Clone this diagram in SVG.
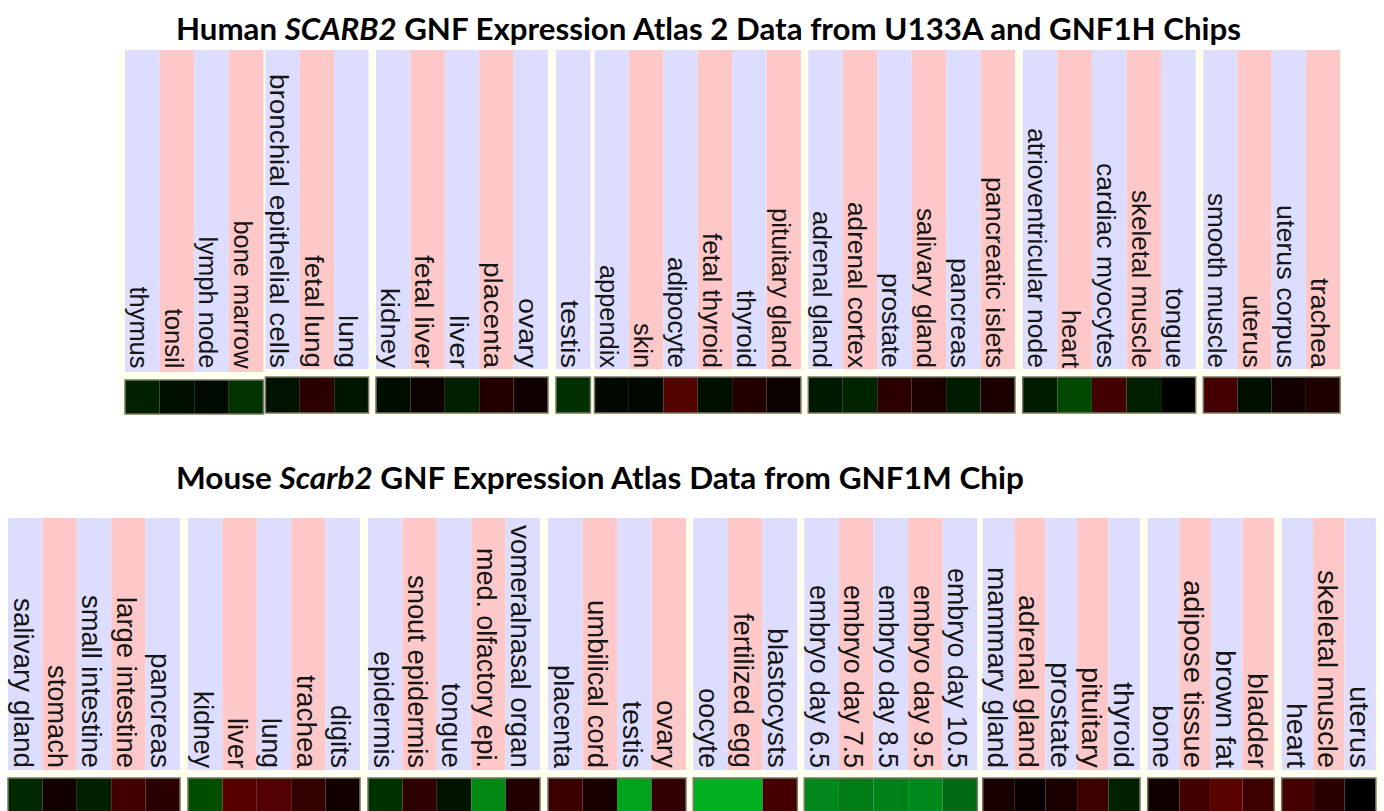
<svg xmlns="http://www.w3.org/2000/svg" width="1384" height="811" viewBox="0 0 1384 811">
<style>
.bg{fill:#FFFFEE}
.L{fill:#DDDDFF}
.P{fill:#FFC8C8}
.t{font-family:"Liberation Sans",Arial,sans-serif;font-size:26px;fill:#151515;text-anchor:end}
.m{font-family:"Liberation Sans",Arial,sans-serif;font-size:27.5px;fill:#151515;text-anchor:end}
.bar{fill:none;stroke:#77776a;stroke-width:1.5}
.title{font-family:Lato,"Liberation Sans",sans-serif;font-weight:700;font-size:31px;fill:#000}
</style>
<rect width="1384" height="811" fill="#FFFFFF"/>
<g id="titles">
<text class="title" x="176" y="40" textLength="1065" lengthAdjust="spacingAndGlyphs">Human <tspan font-style="italic">SCARB2</tspan> GNF Expression Atlas 2 Data from U133A and GNF1H Chips</text>
<text class="title" x="176" y="489" textLength="848" lengthAdjust="spacingAndGlyphs">Mouse <tspan font-style="italic">Scarb2</tspan> GNF Expression Atlas Data from GNF1M Chip</text>
</g>
<g id="human">
<rect class="bg" x="119" y="50" width="1224" height="366"/>
<g id="h-g1">
<rect class="L" x="125" y="50" width="34.6" height="322"/><rect class="P" x="159.6" y="50" width="34.6" height="322"/><rect class="L" x="194.2" y="50" width="34.6" height="322"/><rect class="P" x="228.8" y="50" width="34.6" height="322"/>
<text class="t" transform="translate(130,368.5) rotate(90)" textLength="82" lengthAdjust="spacingAndGlyphs">thymus</text>
<text class="t" transform="translate(164.6,368.5) rotate(90)" textLength="60" lengthAdjust="spacingAndGlyphs">tonsil</text>
<text class="t" transform="translate(199.2,368.5) rotate(90)" textLength="132" lengthAdjust="spacingAndGlyphs">lymph node</text>
<text class="t" transform="translate(233.8,368.5) rotate(90)" textLength="148" lengthAdjust="spacingAndGlyphs">bone marrow</text>
<rect x="125" y="380" width="34.6" height="34" fill="#002200"/><rect x="159.6" y="380" width="34.6" height="34" fill="#001000"/><rect x="194.2" y="380" width="34.6" height="34" fill="#000a00"/><rect x="228.8" y="380" width="34.6" height="34" fill="#003300"/>
<rect class="bar" x="125" y="380" width="138.4" height="34"/>
</g>
<g id="h-g2">
<rect class="L" x="265.4" y="50" width="34.4" height="319"/><rect class="P" x="299.8" y="50" width="34.4" height="319"/><rect class="L" x="334.2" y="50" width="34.4" height="319"/>
<text class="t" transform="translate(270.4,368) rotate(90)" textLength="294" lengthAdjust="spacingAndGlyphs">bronchial epithelial cells</text>
<text class="t" transform="translate(304.8,368) rotate(90)" textLength="113" lengthAdjust="spacingAndGlyphs">fetal lung</text>
<text class="t" transform="translate(339.2,368) rotate(90)" textLength="53" lengthAdjust="spacingAndGlyphs">lung</text>
<rect x="265.4" y="377" width="34.4" height="36" fill="#001200"/><rect x="299.8" y="377" width="34.4" height="36" fill="#2a0000"/><rect x="334.2" y="377" width="34.4" height="36" fill="#001600"/>
<rect class="bar" x="265.4" y="377" width="103.2" height="36"/>
</g>
<g id="h-g3">
<rect class="L" x="376" y="50" width="34.4" height="319"/><rect class="P" x="410.4" y="50" width="34.4" height="319"/><rect class="L" x="444.8" y="50" width="34.4" height="319"/><rect class="P" x="479.2" y="50" width="34.4" height="319"/><rect class="L" x="513.6" y="50" width="34.4" height="319"/>
<text class="t" transform="translate(381,368) rotate(90)" textLength="80" lengthAdjust="spacingAndGlyphs">kidney</text>
<text class="t" transform="translate(415.4,368) rotate(90)" textLength="113" lengthAdjust="spacingAndGlyphs">fetal liver</text>
<text class="t" transform="translate(449.8,368) rotate(90)" textLength="53" lengthAdjust="spacingAndGlyphs">liver</text>
<text class="t" transform="translate(484.2,368) rotate(90)" textLength="106" lengthAdjust="spacingAndGlyphs">placenta</text>
<text class="t" transform="translate(518.6,368) rotate(90)" textLength="70" lengthAdjust="spacingAndGlyphs">ovary</text>
<rect x="376" y="377" width="34.4" height="36" fill="#000e00"/><rect x="410.4" y="377" width="34.4" height="36" fill="#0c0000"/><rect x="444.8" y="377" width="34.4" height="36" fill="#002000"/><rect x="479.2" y="377" width="34.4" height="36" fill="#220000"/><rect x="513.6" y="377" width="34.4" height="36" fill="#0e0000"/>
<rect class="bar" x="376" y="377" width="172" height="36"/>
</g>
<g id="h-g4">
<rect class="L" x="556" y="50" width="34.4" height="319"/>
<text class="t" transform="translate(561,368) rotate(90)" textLength="68" lengthAdjust="spacingAndGlyphs">testis</text>
<rect x="556" y="377" width="34.4" height="36" fill="#003000"/>
<rect class="bar" x="556" y="377" width="34.4" height="36"/>
</g>
<g id="h-g5">
<rect class="L" x="594.5" y="50" width="34.4" height="319"/><rect class="P" x="628.9" y="50" width="34.4" height="319"/><rect class="L" x="663.3" y="50" width="34.4" height="319"/><rect class="P" x="697.7" y="50" width="34.4" height="319"/><rect class="L" x="732.1" y="50" width="34.4" height="319"/><rect class="P" x="766.5" y="50" width="34.4" height="319"/>
<text class="t" transform="translate(599.5,368) rotate(90)" textLength="103" lengthAdjust="spacingAndGlyphs">appendix</text>
<text class="t" transform="translate(633.9,368) rotate(90)" textLength="45" lengthAdjust="spacingAndGlyphs">skin</text>
<text class="t" transform="translate(668.3,368) rotate(90)" textLength="111" lengthAdjust="spacingAndGlyphs">adipocyte</text>
<text class="t" transform="translate(702.7,368) rotate(90)" textLength="135" lengthAdjust="spacingAndGlyphs">fetal thyroid</text>
<text class="t" transform="translate(737.1,368) rotate(90)" textLength="78" lengthAdjust="spacingAndGlyphs">thyroid</text>
<text class="t" transform="translate(771.5,368) rotate(90)" textLength="160" lengthAdjust="spacingAndGlyphs">pituitary gland</text>
<rect x="594.5" y="377" width="34.4" height="36" fill="#000800"/><rect x="628.9" y="377" width="34.4" height="36" fill="#000800"/><rect x="663.3" y="377" width="34.4" height="36" fill="#520400"/><rect x="697.7" y="377" width="34.4" height="36" fill="#001000"/><rect x="732.1" y="377" width="34.4" height="36" fill="#220000"/><rect x="766.5" y="377" width="34.4" height="36" fill="#0c0000"/>
<rect class="bar" x="594.5" y="377" width="206.4" height="36"/>
</g>
<g id="h-g6">
<rect class="L" x="808.3" y="50" width="34.45" height="319"/><rect class="P" x="842.75" y="50" width="34.45" height="319"/><rect class="L" x="877.2" y="50" width="34.45" height="319"/><rect class="P" x="911.65" y="50" width="34.45" height="319"/><rect class="L" x="946.1" y="50" width="34.45" height="319"/><rect class="P" x="980.55" y="50" width="34.45" height="319"/>
<text class="t" transform="translate(813.3,368) rotate(90)" textLength="157" lengthAdjust="spacingAndGlyphs">adrenal gland</text>
<text class="t" transform="translate(847.75,368) rotate(90)" textLength="166" lengthAdjust="spacingAndGlyphs">adrenal cortex</text>
<text class="t" transform="translate(882.2,368) rotate(90)" textLength="95" lengthAdjust="spacingAndGlyphs">prostate</text>
<text class="t" transform="translate(916.65,368) rotate(90)" textLength="160" lengthAdjust="spacingAndGlyphs">salivary gland</text>
<text class="t" transform="translate(951.1,368) rotate(90)" textLength="110" lengthAdjust="spacingAndGlyphs">pancreas</text>
<text class="t" transform="translate(985.55,368) rotate(90)" textLength="191" lengthAdjust="spacingAndGlyphs">pancreatic islets</text>
<rect x="808.3" y="377" width="34.45" height="36" fill="#001a00"/><rect x="842.75" y="377" width="34.45" height="36" fill="#002400"/><rect x="877.2" y="377" width="34.45" height="36" fill="#2a0000"/><rect x="911.65" y="377" width="34.45" height="36" fill="#1c0000"/><rect x="946.1" y="377" width="34.45" height="36" fill="#001c00"/><rect x="980.55" y="377" width="34.45" height="36" fill="#1a0000"/>
<rect class="bar" x="808.3" y="377" width="206.7" height="36"/>
</g>
<g id="h-g7">
<rect class="L" x="1022.7" y="50" width="34.6" height="319"/><rect class="P" x="1057.3" y="50" width="34.6" height="319"/><rect class="L" x="1091.9" y="50" width="34.6" height="319"/><rect class="P" x="1126.5" y="50" width="34.6" height="319"/><rect class="L" x="1161.1" y="50" width="34.6" height="319"/>
<text class="t" transform="translate(1027.7,368) rotate(90)" textLength="240" lengthAdjust="spacingAndGlyphs">atrioventricular node</text>
<text class="t" transform="translate(1062.3,368) rotate(90)" textLength="58" lengthAdjust="spacingAndGlyphs">heart</text>
<text class="t" transform="translate(1096.9,368) rotate(90)" textLength="205" lengthAdjust="spacingAndGlyphs">cardiac myocytes</text>
<text class="t" transform="translate(1131.5,368) rotate(90)" textLength="178" lengthAdjust="spacingAndGlyphs">skeletal muscle</text>
<text class="t" transform="translate(1166.1,368) rotate(90)" textLength="80" lengthAdjust="spacingAndGlyphs">tongue</text>
<rect x="1022.7" y="377" width="34.6" height="36" fill="#001c00"/><rect x="1057.3" y="377" width="34.6" height="36" fill="#004800"/><rect x="1091.9" y="377" width="34.6" height="36" fill="#420000"/><rect x="1126.5" y="377" width="34.6" height="36" fill="#001e00"/><rect x="1161.1" y="377" width="34.6" height="36" fill="#000000"/>
<rect class="bar" x="1022.7" y="377" width="173" height="36"/>
</g>
<g id="h-g8">
<rect class="L" x="1203.3" y="50" width="34.2" height="319"/><rect class="P" x="1237.5" y="50" width="34.2" height="319"/><rect class="L" x="1271.7" y="50" width="34.2" height="319"/><rect class="P" x="1305.9" y="50" width="34.2" height="319"/>
<text class="t" transform="translate(1208.3,368) rotate(90)" textLength="175" lengthAdjust="spacingAndGlyphs">smooth muscle</text>
<text class="t" transform="translate(1242.5,368) rotate(90)" textLength="73" lengthAdjust="spacingAndGlyphs">uterus</text>
<text class="t" transform="translate(1276.7,368) rotate(90)" textLength="163" lengthAdjust="spacingAndGlyphs">uterus corpus</text>
<text class="t" transform="translate(1310.9,368) rotate(90)" textLength="90" lengthAdjust="spacingAndGlyphs">trachea</text>
<rect x="1203.3" y="377" width="34.2" height="36" fill="#440000"/><rect x="1237.5" y="377" width="34.2" height="36" fill="#001000"/><rect x="1271.7" y="377" width="34.2" height="36" fill="#120000"/><rect x="1305.9" y="377" width="34.2" height="36" fill="#1e0000"/>
<rect class="bar" x="1203.3" y="377" width="136.8" height="36"/>
</g>
</g>
<g id="mouse">
<rect class="bg" x="8" y="518" width="1372" height="293"/>
<g id="m-g1">
<rect class="L" x="8" y="518" width="34.4" height="252"/><rect class="P" x="42.4" y="518" width="34.4" height="252"/><rect class="L" x="76.8" y="518" width="34.4" height="252"/><rect class="P" x="111.2" y="518" width="34.4" height="252"/><rect class="L" x="145.6" y="518" width="34.4" height="252"/>
<text class="m" transform="translate(13.5,768) rotate(90)" textLength="170" lengthAdjust="spacingAndGlyphs">salivary gland</text>
<text class="m" transform="translate(47.9,768) rotate(90)" textLength="103" lengthAdjust="spacingAndGlyphs">stomach</text>
<text class="m" transform="translate(82.3,768) rotate(90)" textLength="173" lengthAdjust="spacingAndGlyphs">small intestine</text>
<text class="m" transform="translate(116.7,768) rotate(90)" textLength="171" lengthAdjust="spacingAndGlyphs">large intestine</text>
<text class="m" transform="translate(151.1,768) rotate(90)" textLength="115" lengthAdjust="spacingAndGlyphs">pancreas</text>
<rect x="8" y="778" width="34.4" height="40" fill="#002800"/><rect x="42.4" y="778" width="34.4" height="40" fill="#120000"/><rect x="76.8" y="778" width="34.4" height="40" fill="#002000"/><rect x="111.2" y="778" width="34.4" height="40" fill="#420000"/><rect x="145.6" y="778" width="34.4" height="40" fill="#2a0000"/>
<rect class="bar" x="8" y="778" width="172" height="40"/>
</g>
<g id="m-g2">
<rect class="L" x="188" y="518" width="34.4" height="252"/><rect class="P" x="222.4" y="518" width="34.4" height="252"/><rect class="L" x="256.8" y="518" width="34.4" height="252"/><rect class="P" x="291.2" y="518" width="34.4" height="252"/><rect class="L" x="325.6" y="518" width="34.4" height="252"/>
<text class="m" transform="translate(193.5,768) rotate(90)" textLength="77" lengthAdjust="spacingAndGlyphs">kidney</text>
<text class="m" transform="translate(227.9,768) rotate(90)" textLength="50" lengthAdjust="spacingAndGlyphs">liver</text>
<text class="m" transform="translate(262.3,768) rotate(90)" textLength="50" lengthAdjust="spacingAndGlyphs">lung</text>
<text class="m" transform="translate(296.7,768) rotate(90)" textLength="93" lengthAdjust="spacingAndGlyphs">trachea</text>
<text class="m" transform="translate(331.1,768) rotate(90)" textLength="63" lengthAdjust="spacingAndGlyphs">digits</text>
<rect x="188" y="778" width="34.4" height="40" fill="#004e00"/><rect x="222.4" y="778" width="34.4" height="40" fill="#560000"/><rect x="256.8" y="778" width="34.4" height="40" fill="#520000"/><rect x="291.2" y="778" width="34.4" height="40" fill="#340000"/><rect x="325.6" y="778" width="34.4" height="40" fill="#120000"/>
<rect class="bar" x="188" y="778" width="172" height="40"/>
</g>
<g id="m-g3">
<rect class="L" x="368" y="518" width="34.4" height="252"/><rect class="P" x="402.4" y="518" width="34.4" height="252"/><rect class="L" x="436.8" y="518" width="34.4" height="252"/><rect class="P" x="471.2" y="518" width="34.4" height="252"/><rect class="L" x="505.6" y="518" width="34.4" height="252"/>
<text class="m" transform="translate(373.5,768) rotate(90)" textLength="117" lengthAdjust="spacingAndGlyphs">epidermis</text>
<text class="m" transform="translate(407.9,768) rotate(90)" textLength="193" lengthAdjust="spacingAndGlyphs">snout epidermis</text>
<text class="m" transform="translate(442.3,768) rotate(90)" textLength="85" lengthAdjust="spacingAndGlyphs">tongue</text>
<text class="m" transform="translate(476.7,768) rotate(90)" textLength="220" lengthAdjust="spacingAndGlyphs">med. olfactory epi.</text>
<text class="m" transform="translate(511.1,768) rotate(90)" textLength="243" lengthAdjust="spacingAndGlyphs">vomeralnasal organ</text>
<rect x="368" y="778" width="34.4" height="40" fill="#003200"/><rect x="402.4" y="778" width="34.4" height="40" fill="#2c0000"/><rect x="436.8" y="778" width="34.4" height="40" fill="#001400"/><rect x="471.2" y="778" width="34.4" height="40" fill="#008a14"/><rect x="505.6" y="778" width="34.4" height="40" fill="#220000"/>
<rect class="bar" x="368" y="778" width="172" height="40"/>
</g>
<g id="m-g4">
<rect class="L" x="548" y="518" width="34.5" height="252"/><rect class="P" x="582.5" y="518" width="34.5" height="252"/><rect class="L" x="617" y="518" width="34.5" height="252"/><rect class="P" x="651.5" y="518" width="34.5" height="252"/>
<text class="m" transform="translate(553.5,768) rotate(90)" textLength="103" lengthAdjust="spacingAndGlyphs">placenta</text>
<text class="m" transform="translate(588,768) rotate(90)" textLength="168" lengthAdjust="spacingAndGlyphs">umbilical cord</text>
<text class="m" transform="translate(622.5,768) rotate(90)" textLength="67" lengthAdjust="spacingAndGlyphs">testis</text>
<text class="m" transform="translate(657,768) rotate(90)" textLength="68" lengthAdjust="spacingAndGlyphs">ovary</text>
<rect x="548" y="778" width="34.5" height="40" fill="#3a0000"/><rect x="582.5" y="778" width="34.5" height="40" fill="#180000"/><rect x="617" y="778" width="34.5" height="40" fill="#00a41c"/><rect x="651.5" y="778" width="34.5" height="40" fill="#320000"/>
<rect class="bar" x="548" y="778" width="138" height="40"/>
</g>
<g id="m-g5">
<rect class="L" x="693.3" y="518" width="34.7" height="252"/><rect class="P" x="728" y="518" width="34.6" height="252"/><rect class="L" x="762.6" y="518" width="34.7" height="252"/>
<text class="m" transform="translate(698.8,768) rotate(90)" textLength="80" lengthAdjust="spacingAndGlyphs">oocyte</text>
<text class="m" transform="translate(733.5,768) rotate(90)" textLength="155" lengthAdjust="spacingAndGlyphs">fertilized egg</text>
<text class="m" transform="translate(768.1,768) rotate(90)" textLength="140" lengthAdjust="spacingAndGlyphs">blastocysts</text>
<rect x="693.3" y="778" width="34.7" height="40" fill="#00b01e"/><rect x="728" y="778" width="34.6" height="40" fill="#00b01e"/><rect x="762.6" y="778" width="34.7" height="40" fill="#440000"/>
<rect class="bar" x="693.3" y="778" width="104" height="40"/>
</g>
<g id="m-g6">
<rect class="L" x="804.3" y="518" width="34.6" height="252"/><rect class="P" x="838.9" y="518" width="34.6" height="252"/><rect class="L" x="873.5" y="518" width="34.6" height="252"/><rect class="P" x="908.1" y="518" width="34.6" height="252"/><rect class="L" x="942.7" y="518" width="34.6" height="252"/>
<text class="m" transform="translate(809.8,768) rotate(90)" textLength="183" lengthAdjust="spacingAndGlyphs">embryo day 6.5</text>
<text class="m" transform="translate(844.4,768) rotate(90)" textLength="183" lengthAdjust="spacingAndGlyphs">embryo day 7.5</text>
<text class="m" transform="translate(879,768) rotate(90)" textLength="183" lengthAdjust="spacingAndGlyphs">embryo day 8.5</text>
<text class="m" transform="translate(913.6,768) rotate(90)" textLength="183" lengthAdjust="spacingAndGlyphs">embryo day 9.5</text>
<text class="m" transform="translate(948.2,768) rotate(90)" textLength="200" lengthAdjust="spacingAndGlyphs">embryo day 10.5</text>
<rect x="804.3" y="778" width="34.6" height="40" fill="#00881a"/><rect x="838.9" y="778" width="34.6" height="40" fill="#007c16"/><rect x="873.5" y="778" width="34.6" height="40" fill="#008018"/><rect x="908.1" y="778" width="34.6" height="40" fill="#008a1c"/><rect x="942.7" y="778" width="34.6" height="40" fill="#006a14"/>
<rect class="bar" x="804.3" y="778" width="173" height="40"/>
</g>
<g id="m-g7">
<rect class="L" x="982.7" y="518" width="31.5" height="252"/><rect class="P" x="1014.2" y="518" width="31.4" height="252"/><rect class="L" x="1045.6" y="518" width="31.5" height="252"/><rect class="P" x="1077.1" y="518" width="31.4" height="252"/><rect class="L" x="1108.5" y="518" width="31.5" height="252"/>
<text class="m" transform="translate(987.7,768) rotate(90)" textLength="201" lengthAdjust="spacingAndGlyphs">mammary gland</text>
<text class="m" transform="translate(1019.2,768) rotate(90)" textLength="173" lengthAdjust="spacingAndGlyphs">adrenal gland</text>
<text class="m" transform="translate(1050.6,768) rotate(90)" textLength="106" lengthAdjust="spacingAndGlyphs">prostate</text>
<text class="m" transform="translate(1082.1,768) rotate(90)" textLength="101" lengthAdjust="spacingAndGlyphs">pituitary</text>
<text class="m" transform="translate(1113.5,768) rotate(90)" textLength="86" lengthAdjust="spacingAndGlyphs">thyroid</text>
<rect x="982.7" y="778" width="31.5" height="40" fill="#180000"/><rect x="1014.2" y="778" width="31.4" height="40" fill="#080000"/><rect x="1045.6" y="778" width="31.5" height="40" fill="#1a0000"/><rect x="1077.1" y="778" width="31.4" height="40" fill="#3c0000"/><rect x="1108.5" y="778" width="31.5" height="40" fill="#002200"/>
<rect class="bar" x="982.7" y="778" width="157.3" height="40"/>
</g>
<g id="m-g8">
<rect class="L" x="1147.7" y="518" width="31.6" height="252"/><rect class="P" x="1179.3" y="518" width="31.6" height="252"/><rect class="L" x="1210.9" y="518" width="31.6" height="252"/><rect class="P" x="1242.5" y="518" width="31.6" height="252"/>
<text class="m" transform="translate(1152.7,768) rotate(90)" textLength="63" lengthAdjust="spacingAndGlyphs">bone</text>
<text class="m" transform="translate(1184.3,768) rotate(90)" textLength="188" lengthAdjust="spacingAndGlyphs">adipose tissue</text>
<text class="m" transform="translate(1215.9,768) rotate(90)" textLength="118" lengthAdjust="spacingAndGlyphs">brown fat</text>
<text class="m" transform="translate(1247.5,768) rotate(90)" textLength="95" lengthAdjust="spacingAndGlyphs">bladder</text>
<rect x="1147.7" y="778" width="31.6" height="40" fill="#100000"/><rect x="1179.3" y="778" width="31.6" height="40" fill="#420000"/><rect x="1210.9" y="778" width="31.6" height="40" fill="#5a0400"/><rect x="1242.5" y="778" width="31.6" height="40" fill="#3c0000"/>
<rect class="bar" x="1147.7" y="778" width="126.4" height="40"/>
</g>
<g id="m-g9">
<rect class="L" x="1281.7" y="518" width="31.4" height="252"/><rect class="P" x="1313.1" y="518" width="31.4" height="252"/><rect class="L" x="1344.5" y="518" width="31.4" height="252"/>
<text class="m" transform="translate(1286.7,768) rotate(90)" textLength="65" lengthAdjust="spacingAndGlyphs">heart</text>
<text class="m" transform="translate(1318.1,768) rotate(90)" textLength="198" lengthAdjust="spacingAndGlyphs">skeletal muscle</text>
<text class="m" transform="translate(1349.5,768) rotate(90)" textLength="82" lengthAdjust="spacingAndGlyphs">uterus</text>
<rect x="1281.7" y="778" width="31.4" height="40" fill="#440000"/><rect x="1313.1" y="778" width="31.4" height="40" fill="#2a0000"/><rect x="1344.5" y="778" width="31.4" height="40" fill="#000000"/>
<rect class="bar" x="1281.7" y="778" width="94.2" height="40"/>
</g>
</g>
</svg>
